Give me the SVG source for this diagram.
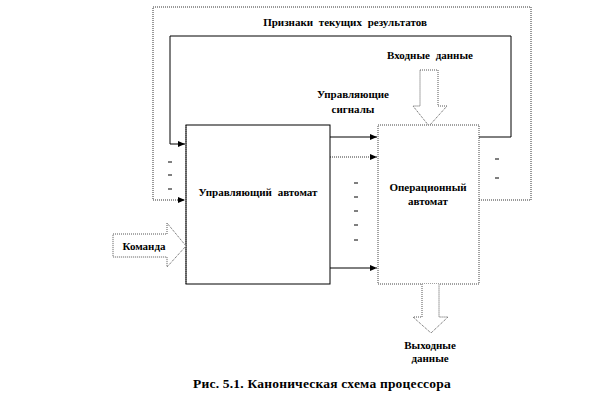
<svg xmlns="http://www.w3.org/2000/svg" width="589" height="413" viewBox="0 0 589 413">
<style>
text{font-weight:bold;fill:#000;text-anchor:middle}
.t{font-size:11px;word-spacing:3px}
.cap{font-size:13.5px;letter-spacing:0.2px}
.solid{fill:none;stroke:#000;stroke-width:1}
.dot{fill:none;stroke:#333;stroke-width:1;stroke-dasharray:1,1}
.blk{fill:#fff;stroke:#555;stroke-width:1;stroke-dasharray:1,1}
.dash{stroke:#000;stroke-width:1}
</style>
<defs>
<marker id="ah" markerWidth="8" markerHeight="8" refX="7" refY="4" orient="auto" markerUnits="userSpaceOnUse">
<path d="M0,1 L7,4 L0,7 Z" fill="#000"/>
</marker>
</defs>
<rect width="589" height="413" fill="#fff"/>
<g id="connectors">
<path class="dot" d="M479,200 H531 V7 H153 V200 H185" marker-end="url(#ah)"/>
<path class="solid" d="M479,137 H511 V36 H170 V144 H185" marker-end="url(#ah)"/>
<path class="solid" d="M330,137 H377" marker-end="url(#ah)"/>
<path class="dot" d="M330,157 H377" marker-end="url(#ah)"/>
<path class="solid" d="M330,268 H370"/>
<path class="dot" d="M370,268 H377" marker-end="url(#ah)"/>
<g>
<line class="dash" x1="168" y1="162" x2="172" y2="162"/>
<line class="dash" x1="168" y1="175" x2="172" y2="175"/>
<line class="dash" x1="168" y1="189" x2="172" y2="189"/>
<line class="dash" x1="354" y1="183" x2="358" y2="183"/>
<line class="dash" x1="354" y1="197" x2="358" y2="197"/>
<line class="dash" x1="354" y1="211" x2="358" y2="211"/>
<line class="dash" x1="354" y1="225" x2="358" y2="225"/>
<line class="dash" x1="354" y1="240" x2="358" y2="240"/>
<line class="dash" x1="495" y1="159" x2="499" y2="159"/>
<line class="dash" x1="495" y1="178" x2="499" y2="178"/>
</g>
</g>
<g font-family="Liberation Serif, Times New Roman, DejaVu Serif, serif">
<g id="label-features">
<text class="t" x="345" y="26">Признаки текущих результатов</text>
</g>
<g id="input-data">
<text class="t" x="430" y="59">Входные данные</text>
<path class="blk" d="M420,70 H438 V106 H447 L429,126 L413,106 H420 Z"/>
</g>
<g id="control-signals-label">
<text class="t" x="353" y="98">Управляющие</text>
<text class="t" x="353" y="113">сигналы</text>
</g>
<g id="control-unit">
<rect x="186" y="125" width="144" height="159" fill="#fff" stroke="#000" stroke-width="1"/>
<line class="dot" x1="186" y1="125" x2="186" y2="284" stroke="#fff"/>
<text class="t" x="258" y="196">Управляющий автомат</text>
</g>
<g id="operational-unit">
<rect x="378" y="125" width="101" height="159" fill="#fff" stroke="#444" stroke-width="1" stroke-dasharray="1,1"/>
<text class="t" x="428" y="191">Операционный</text>
<text class="t" x="428" y="205">автомат</text>
</g>
<g id="command">
<path class="blk" d="M113,234 H167 V223 L186,246 L167,267 V257 H113 Z"/>
<text class="t" x="144" y="250">Команда</text>
</g>
<g id="output-data">
<path class="blk" d="M422,284 V317 H413 L431,333 L448,317 H439 V284"/>
<text class="t" x="430" y="349">Выходные</text>
<text class="t" x="430" y="362">данные</text>
</g>
<g id="caption">
<text class="cap" x="322" y="388">Рис. 5.1. Каноническая схема процессора</text>
</g>
</g>
</svg>
